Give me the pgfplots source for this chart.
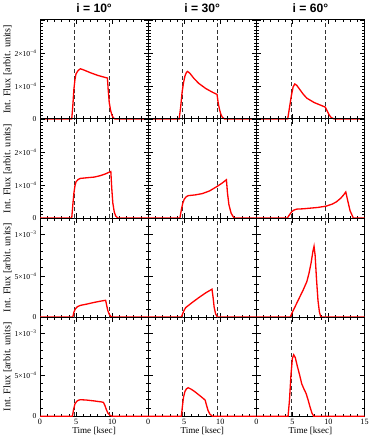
\documentclass[border=0pt]{standalone}
\usepackage{fontspec}
\setmainfont{Liberation Serif}
\newfontfamily\headfont{Liberation Sans}
\usepackage{pgfplots}
\pgfplotsset{compat=1.18}
\usepgfplotslibrary{groupplots}

% flux curves are in units of 1e-4
\newcommand{\windows}[1]{%
  \addplot[black!80, line width=0.7pt, dash pattern=on 4pt off 2.5pt] coordinates {(4.8,0) (4.8,#1)};
  \addplot[black!80, line width=0.7pt, dash pattern=on 4pt off 2.5pt] coordinates {(9.6,0) (9.6,#1)};
}

\begin{document}
\begin{tikzpicture}
\begin{groupplot}[
  group style={group size=3 by 4, horizontal sep=0pt, vertical sep=0pt},
  width=107pt, height=98pt, scale only axis,
  xmin=0, xmax=15,
  xtick={0,5,10,15}, minor xtick={1,2,3,4,6,7,8,9,11,12,13,14},
  xticklabels={}, yticklabels={},
  tick align=inside, xtick pos=both, ytick pos=both,
  major tick length=4.5pt, minor tick length=2.5pt,
  tick style={black, line width=0.6pt},
  axis line style={black, line width=1pt},
  tick label style={font=\fontsize{7.5}{8}\selectfont},
  xticklabel style={font=\fontsize{8}{9}\selectfont, yshift=1pt},
  xlabel style={font=\fontsize{9}{10}\selectfont},
  ylabel style={font=\fontsize{10}{11}\selectfont},
  title style={font=\headfont\bfseries\fontsize{12}{13}\selectfont, yshift=-2pt},
  clip=false,
  flux/.style={red, line width=1.3pt, mark=none},
  low/.style={ymin=0, ymax=3, ytick={0,1,2,3},
    minor ytick={0.1,0.2,0.3,0.4,0.5,0.6,0.7,0.8,0.9,1.1,1.2,1.3,1.4,1.5,1.6,1.7,1.8,1.9,2.1,2.2,2.3,2.4,2.5,2.6,2.7,2.8,2.9}},
  high/.style={ymin=0, ymax=12, ytick={0,5,10}, minor ytick={1,2,3,4,6,7,8,9,11,12}},
  lowlab/.style={ylabel={Int. Flux [arbit. units]}, ylabel style={yshift=-4pt},
    yticklabels={0,1×10\textsuperscript{−4},2×10\textsuperscript{−4},{}}},
  highlab/.style={ylabel={Int. Flux [arbit. units]}, ylabel style={yshift=-4pt},
    yticklabels={0,5×10\textsuperscript{−4},1×10\textsuperscript{−3}}},
  bot/.style={xlabel={Time [ksec]}, xlabel style={yshift=4pt}},
]
% row 1
\nextgroupplot[low, lowlab, title={i = 10°}]
\windows{3}
\addplot[flux] coordinates {(0,0)(4.4,0)(4.55,0.4)(4.7,0.9)(4.85,1.2)(5.0,1.37)(5.3,1.47)(5.6,1.52)(6,1.49)(7,1.40)(8,1.32)(9,1.26)(9.35,1.24)(9.45,0.9)(9.6,0.5)(9.8,0.25)(10.0,0.1)(10.2,0.03)(10.4,0)(15,0)};
\nextgroupplot[low, title={i = 30°}]
\windows{3}
\addplot[flux] coordinates {(0,0)(4.3,0)(4.5,0.35)(4.7,0.8)(4.9,1.1)(5.1,1.3)(5.3,1.41)(5.47,1.44)(5.8,1.38)(6.3,1.24)(7,1.08)(8,0.92)(9,0.8)(9.55,0.745)(9.7,0.5)(9.9,0.28)(10.1,0.13)(10.3,0.05)(10.6,0)(15,0)};
\nextgroupplot[low, title={i = 60°}]
\windows{3}
\addplot[flux] coordinates {(0,0)(4.35,0)(4.6,0.35)(4.85,0.7)(5.1,0.97)(5.33,1.06)(5.6,1.02)(6,0.9)(6.5,0.75)(7,0.63)(8,0.5)(9,0.41)(9.55,0.36)(9.8,0.25)(10.1,0.12)(10.4,0.04)(10.8,0)(15,0)};
% row 2
\nextgroupplot[low, lowlab]
\windows{3}
\addplot[flux] coordinates {(0,0)(4.4,0)(4.55,0.4)(4.7,0.75)(4.85,0.98)(5.0,1.1)(5.3,1.17)(5.6,1.2)(6.5,1.22)(7.5,1.24)(8.3,1.28)(9,1.33)(9.5,1.38)(9.82,1.41)(9.95,0.9)(10.1,0.45)(10.3,0.18)(10.5,0.06)(10.8,0)(15,0)};
\nextgroupplot[low]
\windows{3}
\addplot[flux] coordinates {(0,0)(4.4,0)(4.6,0.25)(4.8,0.45)(5.0,0.57)(5.3,0.65)(5.6,0.68)(6.5,0.7)(7.5,0.74)(8.5,0.82)(9.5,0.95)(10.2,1.05)(10.85,1.16)(11.0,0.75)(11.2,0.4)(11.5,0.15)(11.9,0)(15,0)};
\nextgroupplot[low]
\windows{3}
\addplot[flux] coordinates {(0,0)(4.3,0)(4.6,0.1)(4.9,0.19)(5.2,0.24)(5.6,0.27)(6.5,0.28)(7.5,0.3)(8.5,0.32)(9.66,0.36)(10.5,0.42)(11.1,0.49)(11.7,0.6)(12.1,0.7)(12.4,0.79)(12.7,0.5)(13.0,0.22)(13.45,0)(15,0)};
% row 3
\nextgroupplot[high, highlab]
\windows{12}
\addplot[flux] coordinates {(0,0)(4.55,0)(4.7,0.6)(4.9,1.0)(5.2,1.27)(5.6,1.42)(6.5,1.58)(7.5,1.78)(8.5,1.95)(9.1,2.04)(9.25,1.4)(9.4,0.8)(9.6,0.35)(9.8,0.1)(10.0,0)(15,0)};
\nextgroupplot[high]
\windows{12}
\addplot[flux] coordinates {(0,0)(4.6,0)(4.8,0.45)(5.0,0.85)(5.2,1.15)(6,1.7)(7,2.35)(8,2.95)(8.85,3.38)(9.0,2.4)(9.15,1.2)(9.35,0.4)(9.6,0)(15,0)};
\nextgroupplot[high]
\windows{12}
\addplot[flux] coordinates {(0,0)(4.7,0)(5.0,0.6)(5.5,1.5)(6.0,2.4)(6.5,3.3)(7.0,4.3)(7.3,5.3)(7.6,6.6)(7.85,8.0)(8.0,8.58)(8.15,7.5)(8.35,4.5)(8.55,2.0)(8.75,0.6)(8.95,0)(15,0)};
% row 4
\nextgroupplot[high, highlab, bot, xticklabels={0,5,10,{}}]
\windows{12}
\addplot[flux] coordinates {(0,0)(4.5,0)(4.65,0.8)(4.85,1.5)(5.1,1.8)(5.3,1.92)(5.6,2.0)(6.5,1.95)(7.5,1.85)(8.5,1.73)(8.8,1.67)(9.0,1.3)(9.2,0.8)(9.4,0.4)(9.7,0.1)(10.0,0)(15,0)};
\nextgroupplot[high, bot, xticklabels={0,5,10,{}}]
\windows{12}
\addplot[flux] coordinates {(0,0)(4.6,0)(4.75,1.2)(4.9,2.3)(5.1,3.0)(5.3,3.3)(5.55,3.45)(6,3.25)(6.5,2.95)(7,2.6)(7.5,2.25)(7.9,1.95)(8.1,1.3)(8.3,0.7)(8.55,0.25)(8.9,0)(15,0)};
\nextgroupplot[high, bot, xticklabels={0,5,10,15}]
\windows{12}
\addplot[flux] coordinates {(0,0)(4.4,0)(4.6,2.0)(4.8,5.0)(5.0,7.0)(5.18,7.44)(5.4,7.1)(5.7,6.0)(6.0,5.0)(6.3,3.9)(6.6,3.3)(6.9,2.75)(7.2,1.9)(7.45,1.1)(7.7,0.4)(7.95,0)(15,0)};
\end{groupplot}
\path (current bounding box.north east) ++(3pt,0);
\end{tikzpicture}
\end{document}
